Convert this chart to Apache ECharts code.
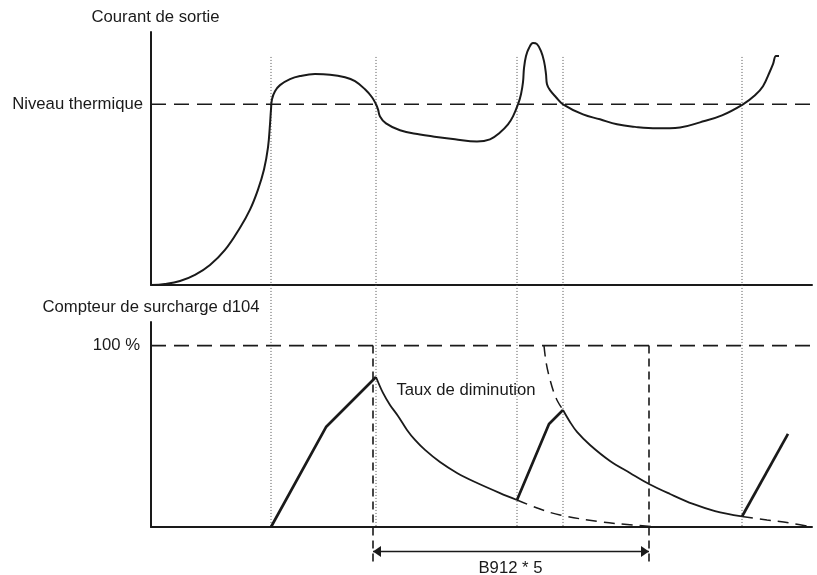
<!DOCTYPE html>
<html><head><meta charset="utf-8">
<script src="https://cdn.jsdelivr.net/npm/echarts@6/dist/echarts.min.js"></script>
<style>html,body{margin:0;padding:0;background:#fff}#c{width:817px;height:575px}</style>
</head><body><div id="c"></div>
<script>
const FONT = '"Liberation Sans", Arial, Helvetica, sans-serif';
const INK = '#1a1a1a';
const FS = 16.7;

// Text
const topAxisName = 'Courant de sortie';
const bottomAxisName = 'Compteur de surcharge d104';
const topLevelLabel = 'Niveau thermique';
const bottomLevelLabel = '100 %';
const decayLabel = 'Taux de diminution';
const spanLabel = 'B912 * 5';

// Scales
const timeMax = 661;
const currentMax = 140;
const thermalLevel = 100;
const counterMax = 113;
const counterFull = 100;

// Event instants (vertical dotted guides), in time units
const eventTimes = [120, 225, 366, 412, 591];
const eventGuideRange = [126.2, -133.9]; // in current units (top panel)

// Output current (top panel) [time, current]
const outputCurrent = [
  [0,0],[14,0.6],[29,2.2],[44,5.6],[59,11.1],[74,19.4],[89,31.7],[99,41.7],[107,52.8],
  [113,63.9],[117,76.1],[119,88.9],[120,97.2],[121,102.8],[124,107.2],[129,110.6],
  [139,113.9],[149,115.6],[164,116.7],[179,116.4],[194,115],[204,112.8],[214,108.3],
  [221,103.9],[225,100],[227,97.2],[229,93.3],[235,89.4],[249,85.6],[269,83.3],
  [282,82.2],[304,80.6],[326,79.4],[339,80.6],[349,84.4],[357,88.9],[362,93.3],
  [367,100],[370,105.6],[372,112.2],[373,120],[375,126.7],[378,131.1],[382,133.9],
  [386,133.3],[390,129.4],[393,123.9],[395,116.7],[396,111.1],[399,107.8],[405,103.9],
  [412,100],[432,94.4],[449,91.7],[466,88.9],[484,87.5],[506,86.7],[529,87.2],[549,90],
  [571,93.9],[592,100],[604,105],[612,110],[619,118.3],[622,122.2],[625,126.7],[628,126.7]
];

// Overload counter (bottom panel) [time, %]
const rise1 = [[120,0],[175,55.1],[225,82.7]];
const rise2 = [[366,14.9],[398,56.8],[412,64.5]];
const rise3 = [[591,5.8],[637,51.3]];
const decay1 = [[225,82.7],[232,73.9],[239,67.3],[247,61.2],[256,53.5],[264,48],[274,42.5],
  [289,35.8],[306,29.8],[324,24.8],[349,18.7],[366,14.9]];
const decay2 = [[412,64.5],[419,57.9],[426,52.4],[439,45.2],[459,36.4],[479,29.8],[498,23.7],
  [519,18.2],[542,12.7],[564,8.8],[591,5.8]];
const decayLeadIn = [[393,100],[395,91],[398,83.3],[403,73.9],[407,68.9],[412,64.5]];
const decayTail1 = [[366,14.9],[389,9.9],[409,6.6],[449,2.9],[482,1.1],[506,0]];
const decayTail2 = [[591,5.8],[616,3.9],[639,2.2],[661,0]];

// B912 * 5 span
const spanStart = 222, spanEnd = 498;
const spanMarkerRange = [100, -19.8];
const spanArrowLevel = -13.5;
const spanArrowHeads = [226, 494];
const labelPoints = [
  {name: decayLabel, value: [315, 75.5]},
  {name: spanLabel, value: [359.5, -22.6]}
];

const chart = echarts.init(document.getElementById('c'), null, {renderer: 'canvas'});

function baseLine(data, xi, yi, style, extra) {
  return Object.assign({
    type: 'line', xAxisIndex: xi, yAxisIndex: yi, data: data,
    symbol: 'none', silent: true, clip: false, animation: false,
    lineStyle: Object.assign({color: INK, width: 2}, style)
  }, extra || {});
}

const series = [];
// top
series.push(baseLine([[0, thermalLevel],[timeMax, thermalLevel]], 0, 0, {width: 1.6, type: [15, 8]}));
eventTimes.forEach(t => series.push(baseLine([[t, eventGuideRange[0]],[t, eventGuideRange[1]]], 0, 0,
  {width: 1, color: '#555', type: [1, 2]})));
series.push(baseLine(outputCurrent, 0, 0, {width: 2}, {smooth: 0.4}));
// bottom
series.push(baseLine([[0, counterFull],[timeMax, counterFull]], 1, 1, {width: 1.6, type: [15, 8]}));
[rise1, rise2, rise3].forEach(d => series.push(baseLine(d, 1, 1, {width: 2.7})));
[decay1, decay2].forEach(d => series.push(baseLine(d, 1, 1, {width: 1.8}, {smooth: 0.35})));
[decayLeadIn, decayTail1, decayTail2].forEach(d => series.push(baseLine(d, 1, 1, {width: 1.5, type: [11, 7]}, {smooth: 0.35})));
[spanStart, spanEnd].forEach(t => series.push(baseLine([[t, spanMarkerRange[0]],[t, spanMarkerRange[1]]], 1, 1,
  {width: 1.6, type: [8, 5]})));
series.push(baseLine([[spanStart, spanArrowLevel],[spanEnd, spanArrowLevel]], 1, 1, {width: 1.6}));
series.push({
  type: 'line', xAxisIndex: 1, yAxisIndex: 1, clip: false, silent: true, animation: false,
  showSymbol: true, symbol: 'triangle', symbolSize: [11, 8],
  lineStyle: {width: 0, opacity: 0},
  itemStyle: {color: INK},
  data: [
    {value: [spanArrowHeads[0], spanArrowLevel], symbolRotate: 90},
    {value: [spanArrowHeads[1], spanArrowLevel], symbolRotate: -90}
  ]
});
series.push({
  type: 'scatter', xAxisIndex: 1, yAxisIndex: 1, clip: false, silent: true, animation: false,
  symbolSize: 1, itemStyle: {color: 'rgba(0,0,0,0)', opacity: 1},
  label: {show: true, position: 'inside', formatter: p => p.name, opacity: 1,
    color: INK, fontSize: FS, fontFamily: FONT, textBorderWidth: 0},
  data: labelPoints
});

const axisLine = {show: true, onZero: true, lineStyle: {color: INK, width: 2}};

chart.setOption({
  animation: false,
  backgroundColor: '#fff',
  textStyle: {fontFamily: FONT},
  grid: [
    {left: 151, right: 5, top: 32, height: 253, containLabel: false},
    {left: 151, right: 5, top: 322, height: 205, containLabel: false}
  ],
  xAxis: [0, 1].map(i => ({
    type: 'value', gridIndex: i, min: 0, max: timeMax,
    axisLine: axisLine, axisTick: {show: false}, axisLabel: {show: false}, splitLine: {show: false}
  })),
  yAxis: [
    {
      type: 'value', gridIndex: 0, min: 0, max: currentMax, interval: thermalLevel,
      name: topAxisName, nameLocation: 'end', nameGap: 6,
      nameTextStyle: {color: INK, fontSize: FS, fontFamily: FONT, padding: [0, 0, 0, 9]},
      axisLine: axisLine, axisTick: {show: false}, splitLine: {show: false},
      axisLabel: {show: true, margin: 8, color: INK, fontSize: FS, fontFamily: FONT,
        formatter: v => v === thermalLevel ? topLevelLabel : ''}
    },
    {
      type: 'value', gridIndex: 1, min: 0, max: counterMax, interval: counterFull,
      name: bottomAxisName, nameLocation: 'end', nameGap: 6,
      nameTextStyle: {color: INK, fontSize: FS, fontFamily: FONT},
      axisLine: axisLine, axisTick: {show: false}, splitLine: {show: false},
      axisLabel: {show: true, margin: 11, color: INK, fontSize: FS, fontFamily: FONT,
        formatter: v => v === counterFull ? bottomLevelLabel : ''}
    }
  ],
  tooltip: {show: false},
  series: series
});
</script>
</body></html>
